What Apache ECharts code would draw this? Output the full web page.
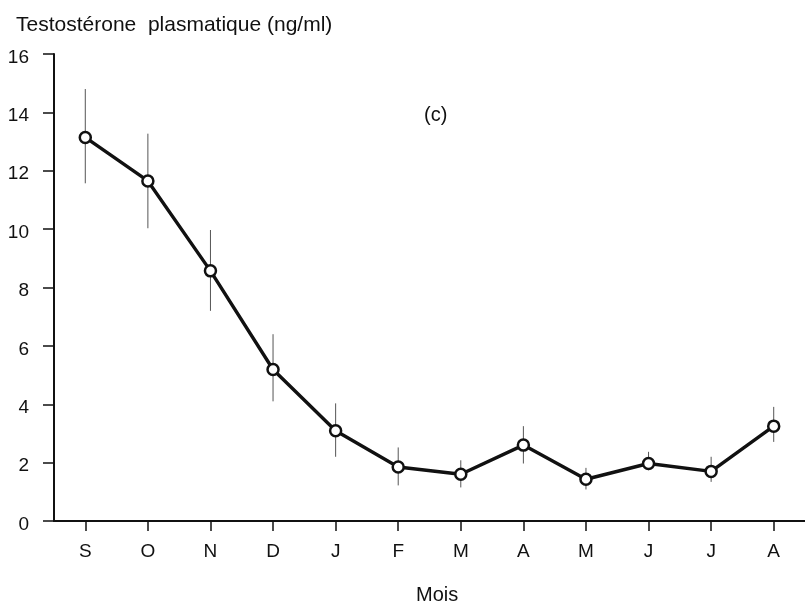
<!DOCTYPE html>
<html><head><meta charset="utf-8">
<script src="https://cdn.jsdelivr.net/npm/echarts@6/dist/echarts.min.js"></script>
<style>html,body{margin:0;padding:0;background:#fff}#c{width:805px;height:606px}</style>
</head><body><div id="c"></div>
<script>
var months = ['S','O','N','D','J','F','M','A','M','J','J','A'];
var means  = [13.14, 11.65, 8.57, 5.19, 3.09, 1.85, 1.6, 2.6, 1.43, 1.97, 1.7, 3.25];
var lower  = [11.57, 10.03, 7.2, 4.1, 2.2, 1.22, 1.15, 1.97, 1.08, 1.74, 1.34, 2.71];
var upper  = [14.8, 13.27, 9.97, 6.4, 4.03, 2.52, 2.08, 3.25, 1.82, 2.37, 2.2, 3.91];
var yTicks = [0, 2, 4, 6, 8, 10, 12, 14, 16];

var font = 'Liberation Sans, Arial, Helvetica, sans-serif';
var chart = echarts.init(document.getElementById('c'), null, {renderer: 'canvas'});
var errData = months.map(function (m, i) { return [i, lower[i], upper[i]]; });
chart.setOption({
  animation: false,
  backgroundColor: '#fff',
  grid: {left: 54, right: 0, top: 54, bottom: 85, containLabel: false},
  title: [
    {text: 'Testostérone  plasmatique (ng/ml)', left: 11, top: 10,
     textStyle: {fontFamily: font, fontSize: 21, fontWeight: 'normal', color: '#111'}},
    {text: '(c)', left: 419, top: 100,
     textStyle: {fontFamily: font, fontSize: 20, fontWeight: 'normal', color: '#111'}},
    {text: 'Mois', left: 411, top: 580,
     textStyle: {fontFamily: font, fontSize: 20, fontWeight: 'normal', color: '#111'}}
  ],
  xAxis: {
    type: 'category', data: months, boundaryGap: true,
    axisLine: {show: true, lineStyle: {color: '#111', width: 2}},
    axisTick: {show: true, alignWithLabel: true, length: 10, lineStyle: {color: '#111', width: 1.5}},
    axisLabel: {margin: 21, fontFamily: font, fontSize: 19, color: '#111'},
    splitLine: {show: false}
  },
  yAxis: {
    type: 'value', min: yTicks[0], max: yTicks[yTicks.length - 1], interval: 2,
    axisLine: {show: true, lineStyle: {color: '#111', width: 2}},
    axisTick: {show: true, length: 11, lineStyle: {color: '#111', width: 1.5}},
    axisLabel: {margin: 25, fontFamily: font, fontSize: 19, color: '#111',
                verticalAlign: 'top', lineHeight: 19, padding: [-6, 0, 0, 0]},
    splitLine: {show: false}
  },
  series: [
    {
      type: 'custom', data: errData, z: 1,
      renderItem: function (params, api) {
        var lo = api.coord([api.value(0), api.value(1)]);
        var hi = api.coord([api.value(0), api.value(2)]);
        return {type: 'line', shape: {x1: lo[0], y1: lo[1], x2: hi[0], y2: hi[1]},
                style: {stroke: '#555', lineWidth: 1}};
      }
    },
    {
      type: 'line', data: means, z: 3,
      symbol: 'circle', symbolSize: 11, showSymbol: true,
      lineStyle: {color: '#111', width: 3.4},
      itemStyle: {color: '#fff', borderColor: '#111', borderWidth: 2.5}
    }
  ]
});
</script></body></html>
